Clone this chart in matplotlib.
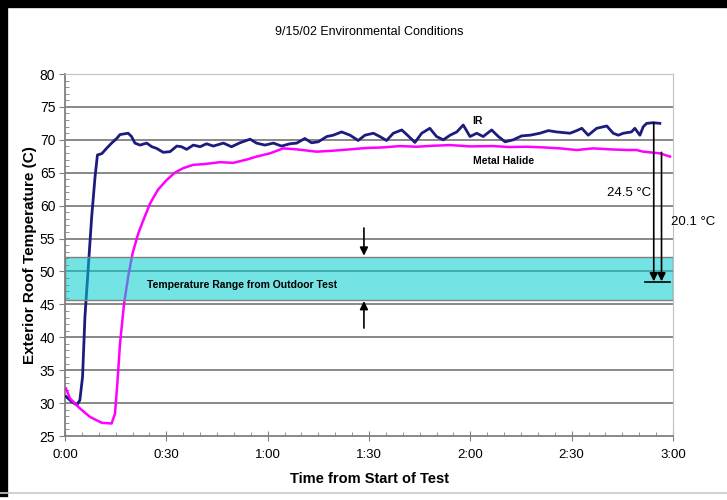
import numpy as np
import matplotlib
matplotlib.use("Agg")
from matplotlib import pyplot as plt
from matplotlib import lines, patches

plt.rcParams['font.family'] = ['Liberation Sans', 'DejaVu Sans']

# readings (minutes from start, deg C)
ir_t = [0.3, 2.0, 3.5, 4.4, 5.2, 5.9, 6.9, 7.9, 8.9, 9.6, 10.9, 12.3, 13.8, 15.3,
        16.3, 18.7, 19.7, 20.7, 22.2, 24.2, 25.7, 27.1, 29.1, 31.1, 33.1, 34.5,
        36.0, 38.0, 40.0, 41.9, 43.9, 46.9, 49.3, 51.8, 54.8, 56.7, 59.2, 61.7,
        64.1, 66.6, 68.6, 71.0, 73.0, 75.0, 77.5, 79.4, 81.9, 84.4, 86.8, 88.8,
        91.3, 93.2, 95.2, 97.2, 99.7, 101.6, 103.6, 105.6, 108.0, 110.0, 112.0,
        114.0, 116.0, 117.9, 119.9, 121.9, 123.8, 126.3, 128.3, 130.3, 132.7,
        135.2, 137.7, 140.6, 143.1, 145.5, 147.5, 149.5, 151.5, 153.0, 154.9,
        157.4, 160.4, 162.3, 163.8, 165.3, 167.7, 168.7, 170.2, 171.2, 172.2,
        174.1, 176.1]
ir_v = [31.0, 30.2, 29.7, 30.45, 34.0, 43.1, 50.7, 58.3, 64.4, 67.7, 67.9, 68.7,
        69.5, 70.2, 70.8, 71.0, 70.5, 69.5, 69.2, 69.5, 68.95, 68.7, 68.1, 68.2,
        69.05, 68.95, 68.55, 69.2, 68.95, 69.4, 69.05, 69.5, 68.95, 69.55, 70.1,
        69.5, 69.2, 69.5, 69.05, 69.4, 69.5, 70.2, 69.55, 69.7, 70.5, 70.7, 71.2,
        70.7, 69.9, 70.7, 71.0, 70.5, 69.9, 71.0, 71.5, 70.6, 69.6, 71.0, 71.75,
        70.5, 70.0, 70.7, 71.2, 72.25, 70.5, 71.0, 70.5, 71.5, 70.5, 69.7, 70.0,
        70.6, 70.7, 71.0, 71.4, 71.2, 71.1, 71.0, 71.4, 71.75, 70.7, 71.75, 72.1,
        71.0, 70.7, 71.0, 71.2, 71.75, 70.7, 72.0, 72.5, 72.6, 72.5]

mh_t = [0.3, 1.5, 4.4, 7.4, 10.9, 13.8, 14.8, 15.5, 16.3, 17.5, 18.7, 20.0, 21.7,
        23.2, 25.2, 27.5, 30.1, 32.5, 35.0, 38.0, 41.0, 45.9, 49.8, 53.8, 56.7,
        60.7, 64.6, 68.6, 74.5, 79.4, 84.4, 89.0, 94.2, 99.2, 104.1, 109.0, 114.0,
        119.9, 126.8, 131.5, 136.7, 141.5, 146.5, 151.5, 156.4, 161.3, 166.3,
        169.2, 171.2, 174.1, 176.1, 179.1]
mh_v = [32.2, 30.7, 29.2, 27.9, 27.0, 26.9, 28.4, 33.0, 39.1, 45.15, 49.2, 52.75,
        55.8, 57.8, 60.35, 62.4, 63.9, 65.0, 65.7, 66.2, 66.3, 66.6, 66.5, 67.0,
        67.45, 67.95, 68.7, 68.55, 68.2, 68.35, 68.55, 68.75, 68.85, 69.05, 68.95,
        69.1, 69.2, 69.0, 69.05, 68.9, 68.95, 68.85, 68.7, 68.45, 68.7, 68.55,
        68.45, 68.45, 68.2, 68.05, 67.95, 67.45]

band_lo, band_hi = 45.7, 52.2   # outdoor test range
x_ticks = [0, 30, 60, 90, 120, 150, 180]
x_labels = ['0:00', '0:30', '1:00', '1:30', '2:00', '2:30', '3:00']

fig = plt.figure(figsize=(7.27, 5.0), dpi=100)
ax = fig.add_axes([65/727, 64/500, 608/727, 362/500])

# outer frame of the original figure
fig.add_artist(lines.Line2D([0, 1], [1 - 4/500, 1 - 4/500], color='black', lw=6))
fig.add_artist(lines.Line2D([4/727, 4/727], [7/500, 1], color='black', lw=6))
fig.add_artist(lines.Line2D([0, 1], [7/500, 7/500], color='#c8c8c8', lw=1.2))

ax.set_xlim(0, 180)
ax.set_ylim(25, 80)
for y in range(30, 80, 5):
    ax.axhline(y, color='#7f7f7f', lw=1.3, zorder=1)

ax.plot(ir_t, ir_v, color='#1c1c7e', lw=2.0, zorder=3)
ax.plot(mh_t, mh_v, color='#ff00ff', lw=1.8, zorder=3)

ax.add_patch(patches.Rectangle((0, band_lo), 180, band_hi - band_lo,
                               facecolor=(0, 0.8, 0.8), alpha=0.55,
                               edgecolor='none', zorder=4))
ax.add_patch(patches.Rectangle((0, band_lo), 180, band_hi - band_lo,
                               facecolor='none', edgecolor='#808080', lw=1.0, zorder=4))
ax.text(24.2, 48.0, 'Temperature Range from Outdoor Test', fontsize=7.5,
        fontweight='bold', va='center', zorder=5)

arr = dict(arrowstyle='-|>', color='black', lw=1.2, mutation_scale=12, shrinkA=0, shrinkB=0)
ax.annotate('', xy=(88.5, 52.4), xytext=(88.5, 56.6), arrowprops=arr, zorder=6)
ax.annotate('', xy=(88.5, 45.5), xytext=(88.5, 41.4), arrowprops=arr, zorder=6)
ax.annotate('', xy=(174.3, 48.5), xytext=(174.3, 72.6), arrowprops=arr, zorder=6)
ax.annotate('', xy=(176.6, 48.5), xytext=(176.6, 68.1), arrowprops=arr, zorder=6)
ax.plot([171.7, 179.1], [48.4, 48.4], color='black', lw=1.2, zorder=6)

ax.text(173.6, 61.9, '24.5 °C', fontsize=9.5, ha='right', va='center')
ax.text(179.3, 57.5, '20.1 °C', fontsize=9.5, ha='left', va='center', clip_on=False)
ax.text(120.6, 72.8, 'IR', fontsize=7.5, fontweight='bold', ha='left', va='center')
ax.text(120.8, 66.8, 'Metal Halide', fontsize=7.5, fontweight='bold', ha='left', va='center')

ax.set_xticks(x_ticks)
ax.set_xticklabels(x_labels)
ax.set_xticks(np.arange(0, 181, 5), minor=True)
ax.set_yticks(np.arange(25, 81, 5))
ax.set_yticks(np.arange(25, 81, 1), minor=True)
ax.tick_params(axis='x', which='major', direction='inout', length=7, color='#808080',
               labelsize=9.5, pad=6)
ax.tick_params(axis='x', which='minor', direction='in', length=3, color='#808080')
ax.tick_params(axis='y', which='major', direction='out', length=4, color='#808080',
               labelsize=10, pad=3)
ax.tick_params(axis='y', which='minor', direction='in', length=3, color='#808080')

for s in ['top', 'right']:
    ax.spines[s].set_color('#c0c0c0')
for s in ['left', 'bottom']:
    ax.spines[s].set_color('#808080')
    ax.spines[s].set_linewidth(1.3)

ax.set_xlabel('Time from Start of Test', fontsize=10.5, fontweight='bold', labelpad=8)
ax.set_ylabel('Exterior Roof Temperature (C)', fontsize=11, fontweight='bold', labelpad=2)
fig.text(369/727, 1 - 32/500, '9/15/02 Environmental Conditions', fontsize=9,
         ha='center', va='center')

fig.savefig('out.png', dpi=100)
